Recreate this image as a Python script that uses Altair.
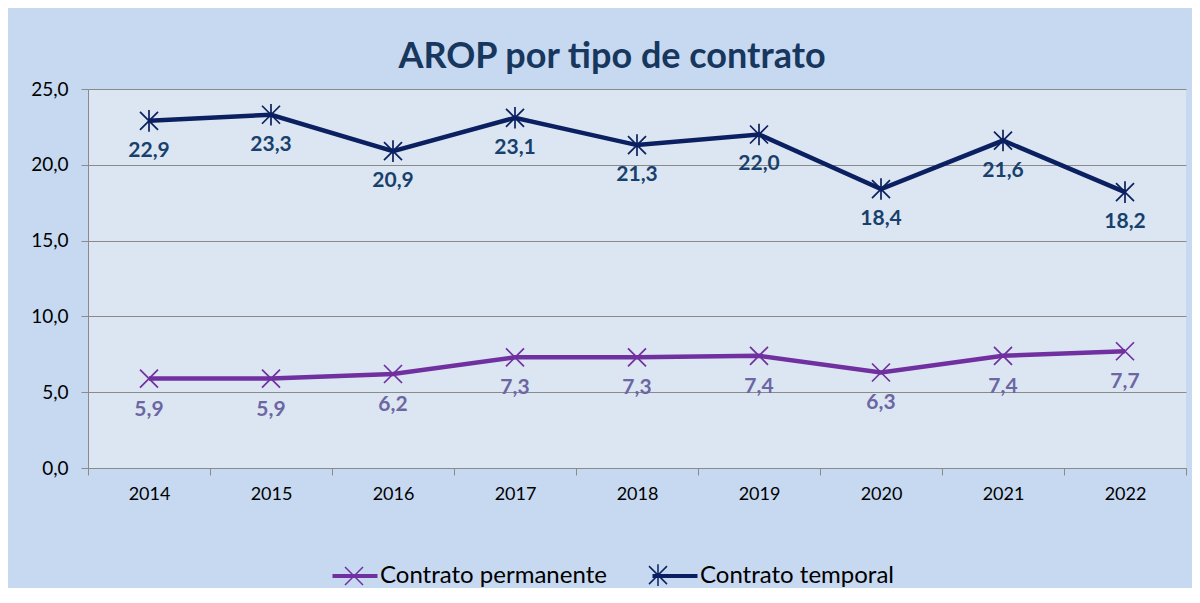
import altair as alt
import pandas as pd

years = ["2014", "2015", "2016", "2017", "2018", "2019", "2020", "2021", "2022"]
permanente = [5.9, 5.9, 6.2, 7.3, 7.3, 7.4, 6.3, 7.4, 7.7]
temporal = [22.9, 23.3, 20.9, 23.1, 21.3, 22.0, 18.4, 21.6, 18.2]
series = ["Contrato permanente", "Contrato temporal"]
line_colors = ["#7030a0", "#0b2060"]
label_colors = ["#6c66a3", "#17406d"]
y_ticks = [0, 5, 10, 15, 20, 25]

rows = []
for yr, p, t in zip(years, permanente, temporal):
    rows.append({"year": yr, "serie": series[0], "grupo": series[0], "valor": p})
    rows.append({"year": yr, "serie": series[1], "grupo": series[1], "valor": t})
df = pd.DataFrame(rows)

FONT = "Lato"
GRID = "#8a8a8a"

x_enc = alt.X(
    "year:N",
    sort=years,
    scale=alt.Scale(type="band", paddingInner=0, paddingOuter=0),
    axis=alt.Axis(
        title=None, tickBand="extent", labelAngle=0, domainColor=GRID,
        tickColor=GRID, tickSize=7, labelFontSize=18, labelFont=FONT,
        labelColor="#000000", labelPadding=10, grid=False,
    ),
)
y_enc = alt.Y(
    "valor:Q",
    scale=alt.Scale(domain=[0, 25], nice=False),
    axis=alt.Axis(
        title=None, values=y_ticks, gridColor=GRID, gridOpacity=1,
        domainColor=GRID, tickColor=GRID, tickSize=7, labelFontSize=19,
        labelFont=FONT, labelColor="#000000", labelPadding=13,
        labelExpr="replace(format(datum.value, '.1f'), '.', ',')",
    ),
)

base = alt.Chart(df).transform_calculate(
    label="replace(format(datum.valor, '.1f'), '.', ',')"
)

LEG = dict(
    title=None, orient="none", legendX=250, legendY=470, direction="horizontal",
    symbolSize=900, labelFontSize=24, labelFont=FONT, labelLimit=500,
    labelOffset=8, columnPadding=37, padding=0,
)

line_symbol = "M-1.5,0H1.5"
cross_path = "M-0.6,-0.6L0.6,0.6M-0.6,0.6L0.6,-0.6"
star_path = "M-0.6,-0.6L0.6,0.6M-0.6,0.6L0.6,-0.6M0,-0.72L0,0.72"

lines = base.mark_line(strokeWidth=4.5).encode(
    x=x_enc,
    y=y_enc,
    color=alt.Color(
        "serie:N", scale=alt.Scale(domain=series, range=line_colors),
        legend=alt.Legend(symbolType=line_symbol, symbolStrokeWidth=4,
                          labelColor="#000000", **LEG),
    ),
)

points = base.mark_point(filled=False, size=900, strokeWidth=1.7, opacity=1).encode(
    x=x_enc,
    y=y_enc,
    shape=alt.Shape("grupo:N", scale=alt.Scale(range=[cross_path, star_path]),
                    legend=alt.Legend(symbolStrokeWidth=1.5, labelOpacity=0, **LEG)),
    stroke=alt.Stroke("grupo:N", scale=alt.Scale(range=line_colors),
                      legend=alt.Legend(symbolStrokeWidth=1.5, labelOpacity=0, **LEG)),
)

txt_perm = base.transform_filter(alt.datum.serie == series[0]).mark_text(
    dy=31, fontSize=21, fontWeight="bold", font=FONT, color=label_colors[0]
).encode(x=x_enc, y=y_enc, text="label:N")
txt_temp = base.transform_filter(alt.datum.serie == series[1]).mark_text(
    dy=30, fontSize=21, fontWeight="bold", font=FONT, color=label_colors[1]
).encode(x=x_enc, y=y_enc, text="label:N")

chart = alt.layer(lines, points, txt_perm, txt_temp).properties(
    width=1098,
    height=379,
    background="#c6d9f0",
    padding={"left": 80, "top": 81, "right": 6, "bottom": 120},
    autosize=alt.AutoSizeParams(type="none"),
    title=alt.Title(
        "AROP por tipo de contrato", font=FONT, fontSize=36, fontWeight="bold",
        color="#17375e", anchor="middle", offset=4, dx=-25,
    ),
).configure_view(
    fill="#dce6f2", stroke=None
)

chart.save("out.html", embed_options={"renderer": "svg", "actions": False})
